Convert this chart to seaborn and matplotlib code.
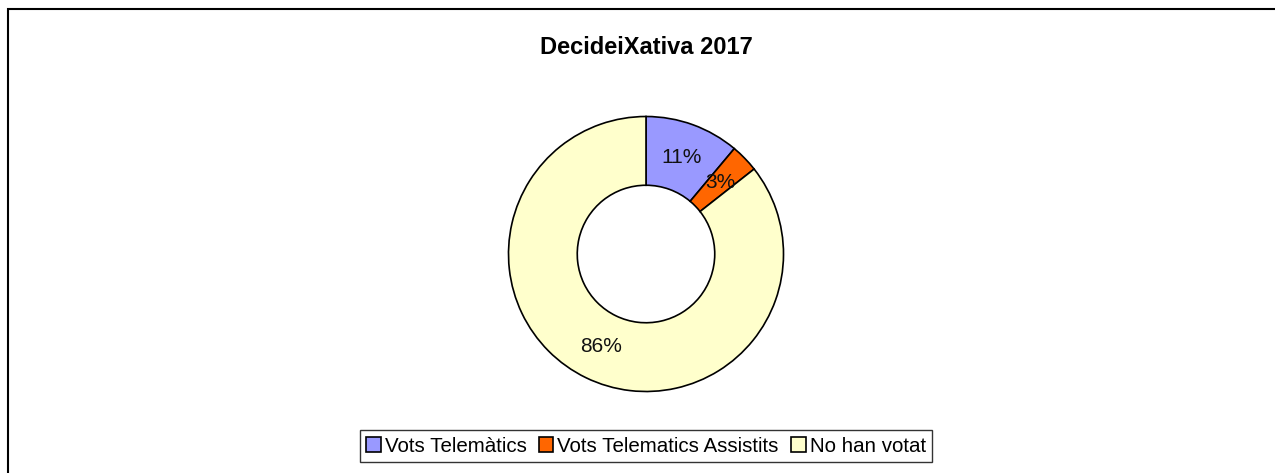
import matplotlib.pyplot as plt
import matplotlib.patches as mpatches
import seaborn as sns

# dades
categories = ["Vots Telemàtics", "Vots Telematics Assistits", "No han votat"]
valors = [11.1, 3.3, 85.6]
colors = ["#9999FF", "#FF6600", "#FFFFCC"]

sns.set_theme(style="white")
plt.rcParams["font.family"] = ["Liberation Sans", "DejaVu Sans"]

W, H = 1275, 473
fig = plt.figure(figsize=(W / 100, H / 100), dpi=100)

# marc del gràfic
fig.patches.append(mpatches.Rectangle((8 / W, -0.1), 1.2, 1 - 9 / H + 0.1,
                                      transform=fig.transFigure, fill=False,
                                      edgecolor="black", linewidth=1.5))

cx, cy, r = 646, 254, 137.5
ax = fig.add_axes([(cx - r) / W, (H - cy - r) / H, 2 * r / W, 2 * r / H])
wedges, texts, autotexts = ax.pie(
    valors, colors=colors, startangle=90, counterclock=False,
    radius=1, autopct="%.0f%%", pctdistance=0.75,
    wedgeprops=dict(width=0.5, edgecolor="black", linewidth=1.2),
    textprops=dict(fontsize=15, color="#111111"))
ax.set_xlim(-1, 1)
ax.set_ylim(-1, 1)
ax.set_aspect("equal")
ax.axis("off")

fig.text(cx / W, 1 - 48 / H, "DecideiXativa 2017", ha="center", va="center",
         fontsize=17, fontweight="bold", color="black")

handles = [mpatches.Patch(facecolor=c, edgecolor="black", linewidth=1.2) for c in colors]
leg = fig.legend(handles, categories, loc="center", bbox_to_anchor=(646 / W, 1 - 446 / H),
                 ncol=3, fontsize=14.8, frameon=True, fancybox=False, edgecolor="black",
                 handlelength=0.7, handleheight=0.7, handletextpad=0.2,
                 columnspacing=0.6, borderpad=0.3)
leg.get_frame().set_linewidth(1.0)
for t in leg.get_texts():
    t.set_color("black")

fig.savefig("out.png", dpi=100)
